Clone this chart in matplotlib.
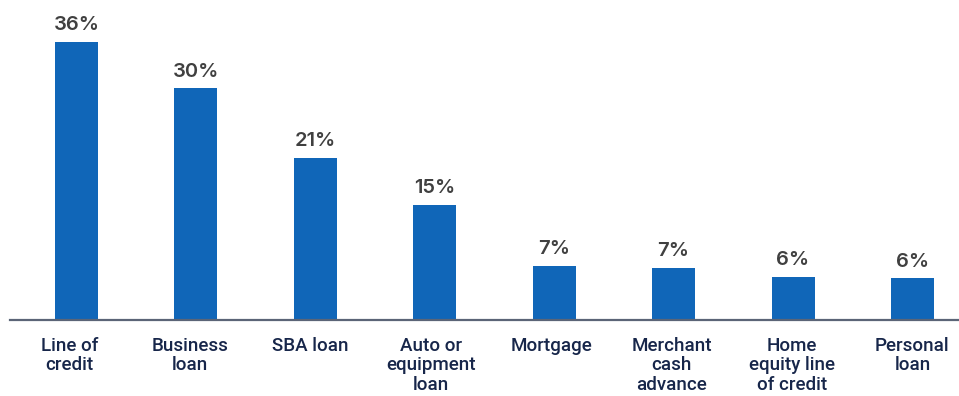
import matplotlib.pyplot as plt

# Data
categories = ["Line of\ncredit", "Business\nloan", "SBA loan", "Auto or\nequipment\nloan",
              "Mortgage", "Merchant\ncash\nadvance", "Home\nequity line\nof credit", "Personal\nloan"]
values = [36, 30, 21, 14.9, 7.0, 6.7, 5.6, 5.4]
value_labels = ["36%", "30%", "21%", "15%", "7%", "7%", "6%", "6%"]

W, H = 959, 396
fig = plt.figure(figsize=(W / 100, H / 100), dpi=100)

# axes spans from x=10px to the right edge, baseline at y=320px
base_y = 320
ax = fig.add_axes([10 / W, (H - base_y) / H, (W - 10) / W, base_y / H])

x = list(range(len(categories)))
bars = ax.bar(x, values, width=0.36, color="#1066b8", zorder=2)

ax.set_xlim(-0.557, 7.39)
ax.set_ylim(0, base_y / 7.72)

for b, lab in zip(bars, value_labels):
    ax.annotate(lab, (b.get_x() + b.get_width() / 2, b.get_height()),
                xytext=(0, 8.5), textcoords="offset points", ha="center", va="baseline",
                fontsize=14.5, fontfamily="Inter", fontweight="semibold", color="#404040")

# labels sit a little left of the bars on the left side of the chart
px = 119.4
ax.set_xticks([i - (7 - i) / px for i in x])
ax.set_xticklabels(categories, fontsize=13.5, fontfamily="Roboto", fontweight="medium",
                   color="#17264a", linespacing=1.12)
ax.tick_params(axis="x", length=0, pad=12)
ax.set_yticks([])

for s in ["top", "right", "left"]:
    ax.spines[s].set_visible(False)
ax.spines["bottom"].set_color("#5b6577")
ax.spines["bottom"].set_linewidth(1.6)

fig.savefig("out.png", dpi=100)
